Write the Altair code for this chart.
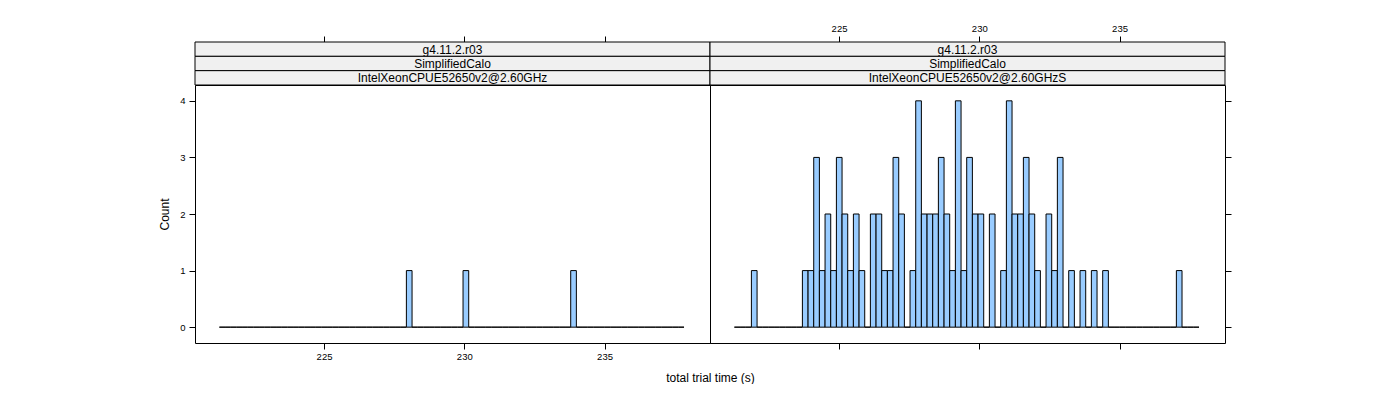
import altair as alt
import pandas as pd

# ---- data -------------------------------------------------------------
bin_start = 221.27          # left edge of the first histogram bin (s)
bin_width = 0.202           # width of each bin (s)

left_counts = [
    0, 0, 0, 0, 0, 0, 0, 0, 0, 0,
    0, 0, 0, 0, 0, 0, 0, 0, 0, 0,
    0, 0, 0, 0, 0, 0, 0, 0, 0, 0,
    0, 0, 0, 1, 0, 0, 0, 0, 0, 0,
    0, 0, 0, 1, 0, 0, 0, 0, 0, 0,
    0, 0, 0, 0, 0, 0, 0, 0, 0, 0,
    0, 0, 1, 0, 0, 0, 0, 0, 0, 0,
    0, 0, 0, 0, 0, 0, 0, 0, 0, 0,
    0, 0,
]
right_counts = [
    0, 0, 0, 1, 0, 0, 0, 0, 0, 0,
    0, 0, 1, 1, 3, 1, 2, 1, 3, 2,
    1, 2, 1, 0, 2, 2, 1, 1, 3, 2,
    0, 1, 4, 2, 2, 2, 3, 2, 1, 4,
    1, 3, 2, 2, 0, 2, 0, 1, 4, 2,
    2, 3, 2, 1, 0, 2, 1, 3, 0, 1,
    0, 1, 0, 1, 0, 1, 0, 0, 0, 0,
    0, 0, 0, 0, 0, 0, 0, 0, 1, 0,
    0, 0,
]
strip_left = ["g4.11.2.r03", "SimplifiedCalo", "IntelXeonCPUE52650v2@2.60GHz"]
strip_right = ["g4.11.2.r03", "SimplifiedCalo", "IntelXeonCPUE52650v2@2.60GHzS"]
x_ticks = [225, 230, 235]
y_ticks = [0, 1, 2, 3, 4]
x_domain = [220.40, 238.76]
y_domain = [-0.28, 4.28]
x_title = "total trial time (s)"
y_title = "Count"

# ---- style ------------------------------------------------------------
W, H = 515, 258
STRIP_H = 14.33
FONT = "Liberation Sans"
BAR_FILL = "#99ccff"
STRIP_FILL = "#f0f0f0"


def hist_df(counts):
    lo = [bin_start + i * bin_width for i in range(len(counts))]
    return pd.DataFrame({
        "lo": lo,
        "hi": [v + bin_width for v in lo],
        "count": counts,
        "base": [0] * len(counts),
    })


def panel(counts, strips, is_left):
    df = hist_df(counts)
    xs = alt.Scale(domain=x_domain, nice=False, zero=False)
    ys = alt.Scale(domain=y_domain, nice=False, zero=False)

    if is_left:
        bottom_axis = alt.Axis(orient="bottom", values=x_ticks, labels=True,
                               tickSize=6, labelPadding=2, title=x_title,
                               titleX=W, titlePadding=12)
        top_axis = alt.Axis(orient="top", values=x_ticks, labels=False,
                            tickSize=6, offset=43, title=None)
        y_axis = alt.Axis(orient="left", values=y_ticks, tickSize=6,
                          labelPadding=4, title=y_title, titlePadding=8)
    else:
        bottom_axis = alt.Axis(orient="bottom", values=x_ticks, labels=False,
                               tickSize=6, title=None)
        top_axis = alt.Axis(orient="top", values=x_ticks, labels=True,
                            tickSize=6, labelPadding=3, offset=43, title=None)
        y_axis = alt.Axis(orient="right", values=y_ticks, labels=False,
                          tickSize=6, title=None)

    bars = alt.Chart(df).mark_rect(
        fill=BAR_FILL, stroke="black", strokeWidth=1
    ).encode(
        x=alt.X("lo:Q", scale=xs, axis=bottom_axis),
        x2="hi:Q",
        y=alt.Y("base:Q", scale=ys, axis=y_axis),
        y2="count:Q",
    )
    top = alt.Chart(df).mark_point(opacity=0).encode(
        x=alt.X("lo:Q", scale=xs, axis=top_axis),
        y=alt.Y("base:Q", scale=ys, axis=y_axis),
    )

    layers = [bars, top]
    for i, label in enumerate(strips):
        sdf = pd.DataFrame({"label": [label]})
        y0 = -3 * STRIP_H + i * STRIP_H
        layers.append(
            alt.Chart(sdf).mark_rect(fill=STRIP_FILL, stroke="black", strokeWidth=1).encode(
                x=alt.value(0), x2=alt.value(W),
                y=alt.value(y0), y2=alt.value(y0 + STRIP_H),
            )
        )
        layers.append(
            alt.Chart(sdf).mark_text(font=FONT, fontSize=12, color="black",
                                     baseline="middle", align="center").encode(
                x=alt.value(W / 2), y=alt.value(y0 + STRIP_H / 2 + 0.5),
                text="label:N",
            )
        )
    return alt.layer(*layers).resolve_axis(x="independent").properties(width=W, height=H)


chart = alt.hconcat(
    panel(left_counts, strip_left, True),
    panel(right_counts, strip_right, False),
    spacing=0,
    bounds="flush",
).properties(
    padding={"left": 158, "top": 22, "right": 0, "bottom": 0},
).configure_view(
    stroke="black", strokeWidth=1
).configure_axis(
    domain=False, grid=False, tickColor="black", tickWidth=1,
    labelColor="black", labelFont=FONT, labelFontSize=9.5,
    titleColor="black", titleFont=FONT, titleFontSize=12, titleFontWeight="normal",
)

chart.save("out.html", embed_options={"renderer": "svg", "actions": False})
